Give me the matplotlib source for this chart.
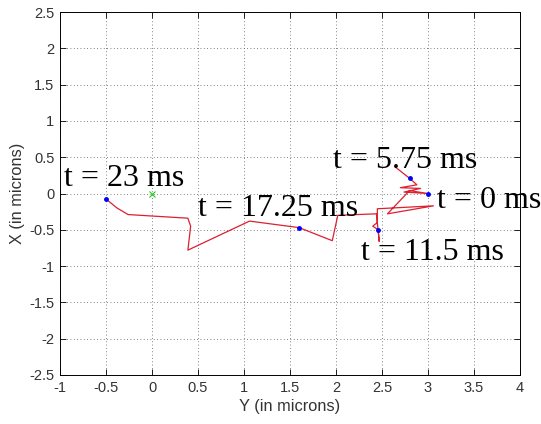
import matplotlib.pyplot as plt

# Bead trajectory (horizontal axis is Y, vertical axis is X, both in microns)
traj_y = [2.64, 2.80, 2.88, 2.70, 2.92, 2.74, 3.00, 2.80, 2.56, 3.06, 2.45,
          2.45, 2.40, 2.46, 2.47, 2.44, 2.02, 1.96, 1.60, 1.06, 0.39, 0.42,
          0.39, -0.26, -0.38, -0.50]
traj_x = [0.37, 0.21, 0.12, 0.08, 0.07, 0.02, 0.00, 0.04, -0.28, -0.17, -0.21,
          -0.40, -0.45, -0.50, -0.66, -0.28, -0.30, -0.65, -0.47, -0.38, -0.78, -0.45,
          -0.34, -0.29, -0.20, -0.076]

# Sampled instants along the path
mark_times = ['0', '5.75', '11.5', '17.25', '23']
mark_y = [3.00, 2.80, 2.46, 1.60, -0.50]
mark_x = [0.00, 0.21, -0.50, -0.47, -0.076]

# Where each time label sits
label_y = [3.10, 1.97, 2.27, 0.50, -0.96]
label_x = [-0.09, 0.46, -0.81, -0.20, 0.20]

# Reference origin
origin_y, origin_x = 0.0, 0.0

plt.rcParams['font.family'] = ['Liberation Sans', 'DejaVu Sans']

fig = plt.figure(figsize=(5.41, 4.24), dpi=100)
ax = fig.add_axes([0.111, 0.1156, 0.850, 0.856])

ax.plot(traj_y, traj_x, color='#dc2030', lw=0.9)
ax.plot(mark_y, mark_x, linestyle='none', marker='.', color='#0000ff', markersize=5)
ax.plot(origin_y, origin_x, linestyle='none', marker='x', color='#22cc22',
        markersize=5, mew=0.8)

for t, ly, lx in zip(mark_times, label_y, label_x):
    ax.text(ly, lx, 't = ' + t + ' ms', fontsize=23, family=['Liberation Serif'],
            ha='left', va='center')

ax.set_xlim(-1, 4)
ax.set_ylim(-2.5, 2.5)
ax.set_xticks([-1, -0.5, 0, 0.5, 1, 1.5, 2, 2.5, 3, 3.5, 4])
ax.set_yticks([-2.5, -2, -1.5, -1, -0.5, 0, 0.5, 1, 1.5, 2, 2.5])
ax.set_xticklabels(['-1', '-0.5', '0', '0.5', '1', '1.5', '2', '2.5', '3', '3.5', '4'])
ax.set_yticklabels(['-2.5', '-2', '-1.5', '-1', '-0.5', '0', '0.5', '1', '1.5', '2', '2.5'])
ax.tick_params(direction='in', length=4, width=0.6, top=True, right=True,
               labelsize=10.5, labelcolor='#333333', pad=4)
for s in ax.spines.values():
    s.set_linewidth(0.7)

ax.grid(True, color='0.35', linestyle=(0, (1, 3)), linewidth=0.6)
ax.set_xlabel('Y (in microns)', fontsize=11.8, color='#333333', labelpad=3)
ax.set_ylabel('X (in microns)', fontsize=11.8, color='#333333', labelpad=3)

plt.savefig('out.png', dpi=100)
